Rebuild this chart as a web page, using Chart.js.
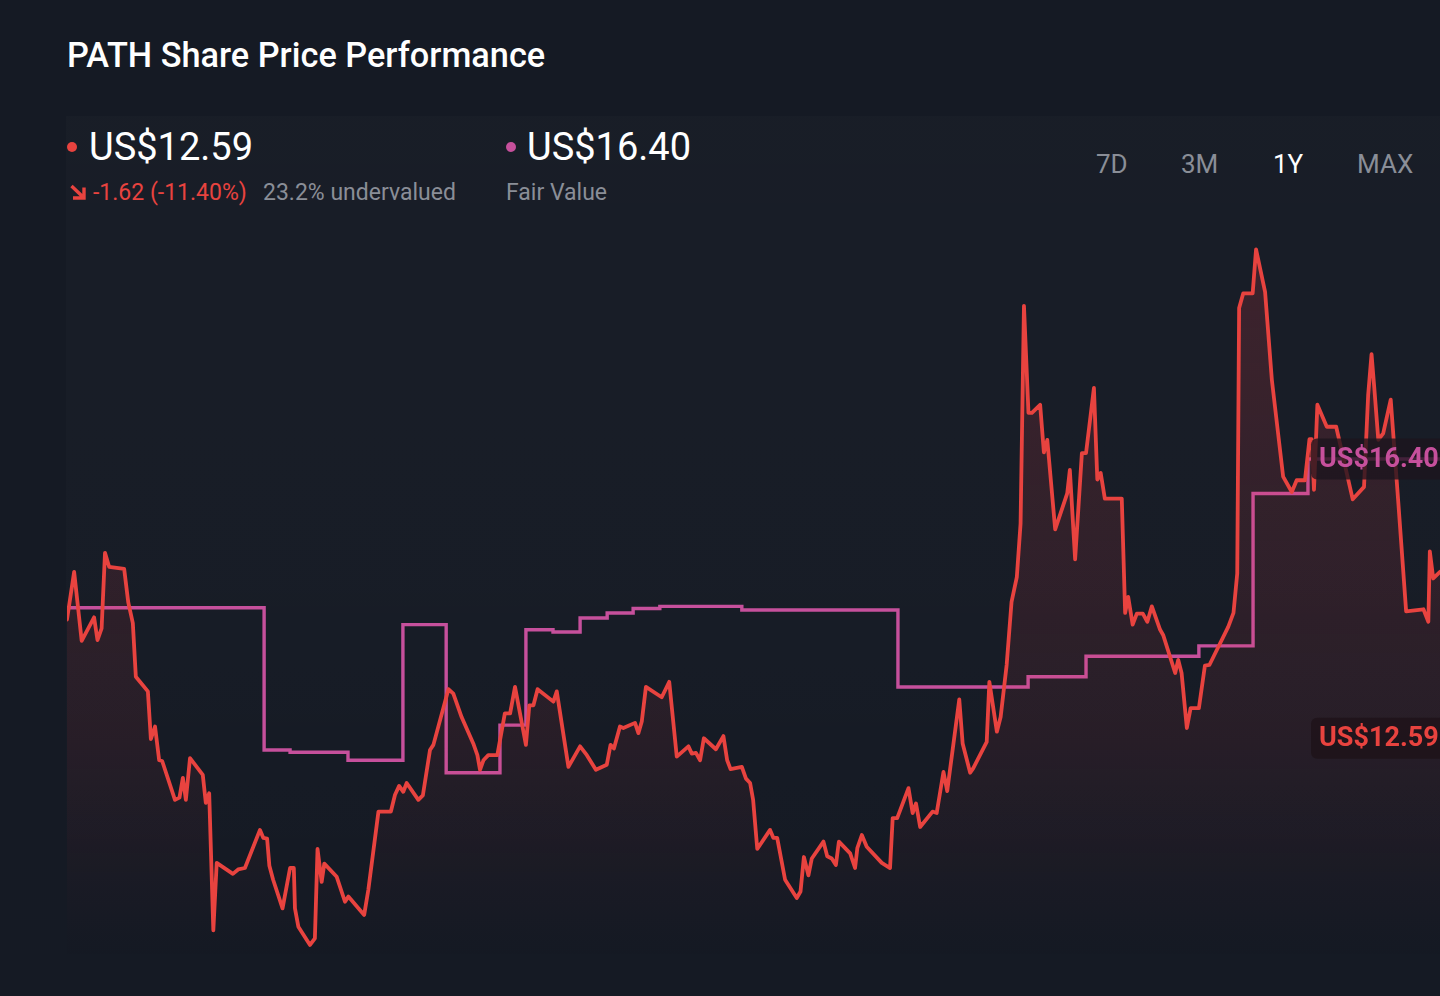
<!DOCTYPE html>
<html>
<head>
<meta charset="utf-8">
<script src="https://cdn.jsdelivr.net/npm/chart.js@4.4.1/dist/chart.umd.min.js"></script>
<style>
html,body{margin:0;padding:0;width:1440px;height:996px;overflow:hidden;background:#151a24;font-family:Roboto,"Noto Sans",sans-serif;}
.abs{position:absolute;white-space:nowrap;line-height:1;}
#panel{position:absolute;left:66px;top:116px;width:1374px;height:780px;background:linear-gradient(180deg,rgba(255,255,255,0.016) 0%,rgba(255,255,255,0.011) 60%,rgba(255,255,255,0) 100%);}
#title{left:67px;top:38px;font-size:34.3px;font-weight:500;color:#ffffff;}
.big{font-size:38px;color:#ffffff;font-weight:400;}
.dot{position:absolute;width:10px;height:10px;border-radius:50%;}
.sub{font-size:23px;}
.btn{font-size:26px;color:#8a8e97;top:151px;}
#chartWrap{position:absolute;left:67px;top:215px;width:1373px;height:745px;}
</style>
</head>
<body>
<div id="panel"></div>
<div id="title" class="abs">PATH Share Price Performance</div>

<div class="dot" style="left:67px;top:142px;background:#e8433f;"></div>
<div id="priceNow" class="abs big" style="left:89px;top:128px;"></div>
<svg style="position:absolute;left:69px;top:184px" width="18" height="16" viewBox="0 0 18 16"><path d="M2.5 2 L13.5 12.5 M15 3.5 L15 14 L4 14" stroke="#e8433f" stroke-width="3.4" fill="none" stroke-linecap="butt" stroke-linejoin="miter"/></svg>
<div id="chg" class="abs sub" style="left:93px;top:181px;color:#e8433f;"></div>
<div id="underv" class="abs sub" style="left:263px;top:181px;color:#8a8e97;"></div>

<div class="dot" style="left:506px;top:142px;background:#c6509c;"></div>
<div id="fairNow" class="abs big" style="left:527px;top:128px;"></div>
<div class="abs sub" style="left:506px;top:181px;color:#8a8e97;">Fair Value</div>

<div class="abs btn" style="left:1096px;">7D</div>
<div class="abs btn" style="left:1181px;">3M</div>
<div class="abs btn" style="left:1273px;color:#ffffff;">1Y</div>
<div class="abs btn" style="left:1357px;">MAX</div>

<div id="chartWrap"><canvas id="c" width="1373" height="745"></canvas></div>

<script>
// ---- data ----
const currentPrice = 12.59;
const fairValue = 16.40;
const priceChange = -1.62;
const priceChangePct = -11.40;
const undervaluedPct = 23.2;

// day offsets within the 1Y window (0..365) and share price in US$
const priceDays = [0,1.9,3.9,7.2,8.1,9.2,10.1,11.2,15.2,16.3,17.5,18.3,21.5,22.3,23.4,24.5,25.3,28.7,29.9,30.8,31.6,32.7,36.1,36.9,37.8,38.9,39.8,44.1,45.5,47.3,51.3,52.2,53.2,53.8,54.8,57.3,59.3,60.3,60.6,61.5,64.6,65.9,66.6,67.7,68.4,71.7,73.9,74.8,79.0,80.1,82.8,86.1,87.2,88.3,89.4,90.3,93.4,94.6,96.5,97.4,101.4,102.7,104.9,108.0,109.1,109.8,110.7,112.0,114.4,116.4,117.8,119.1,122.0,122.9,124.0,125.1,129.3,130.2,133.3,136.4,138.2,140.6,143.5,144.5,145.4,147.0,147.9,151.0,151.9,152.8,153.9,158.1,160.1,162.1,165.2,166.1,167.2,168.3,169.3,172.5,174.5,175.5,176.4,179.4,180.5,181.6,182.4,183.5,186.9,187.8,188.8,190.9,194.0,195.0,195.9,197.1,198.0,201.1,202.1,203.3,204.4,205.2,208.2,209.5,210.1,211.3,212.6,216.6,218.8,219.5,220.7,223.7,224.8,225.7,226.8,230.1,231.2,233.0,234.0,237.2,238.1,240.1,240.9,244.5,245.2,247.2,248.2,249.8,251.1,252.5,253.5,254.4,255.6,256.5,258.7,259.7,260.6,262.7,265.9,266.6,268.0,269.8,270.9,273.0,273.9,274.8,275.9,280.4,281.3,282.1,283.3,284.4,286.0,287.2,288.4,290.6,291.4,294.6,295.4,296.3,297.7,298.7,300.9,302.5,303.7,308.7,310.1,311.1,311.6,312.7,315.2,316.1,318.5,320.3,323.3,325.6,326.9,329.1,330.3,330.9,331.5,332.4,334.9,337.4,341.8,344.8,345.9,346.8,347.5,348.6,349.9,351.9,353.9,356.0,360.6,361.9,362.3,363.2,365.0];
const priceValues = [14.21,14.86,13.92,14.24,13.93,14.09,15.12,14.93,14.90,14.44,14.16,13.43,13.23,12.58,12.75,12.29,12.28,11.75,11.78,12.05,11.75,12.32,12.09,11.71,11.84,9.97,10.89,10.74,10.80,10.82,11.34,11.23,11.22,10.85,10.66,10.27,10.82,10.82,10.27,10.02,9.77,9.86,11.08,10.63,10.88,10.70,10.36,10.43,10.18,10.52,11.59,11.59,11.82,11.94,11.86,11.98,11.75,11.81,12.43,12.50,13.26,13.20,12.88,12.52,12.36,12.16,12.29,12.36,12.36,12.93,12.93,13.29,12.50,13.04,13.04,13.26,13.09,13.23,12.20,12.48,12.36,12.16,12.23,12.50,12.45,12.75,12.73,12.80,12.66,12.82,13.29,13.15,13.36,12.34,12.48,12.38,12.39,12.29,12.59,12.44,12.62,12.29,12.17,12.20,12.04,11.98,11.75,11.08,11.34,11.23,11.23,10.66,10.41,10.50,10.97,10.72,10.95,11.18,10.98,10.95,10.86,11.18,11.02,10.82,11.09,11.27,11.11,10.89,10.82,11.50,11.50,11.91,11.57,11.70,11.38,11.59,11.57,12.13,11.87,13.12,12.52,12.12,12.18,12.54,13.36,12.68,12.88,13.59,14.45,14.79,15.52,18.49,17.03,17.03,17.14,16.49,16.66,15.44,15.93,16.25,15.03,16.48,16.48,17.37,16.12,16.21,15.86,15.86,14.30,14.52,14.14,14.29,14.29,14.18,14.39,14.07,14.00,13.48,13.66,13.48,12.73,13.00,13.00,13.58,13.59,14.11,14.30,14.84,18.46,18.66,18.66,19.26,18.68,17.48,16.16,15.95,16.11,16.11,16.67,16.67,15.98,17.14,16.84,16.84,15.85,16.02,17.27,17.83,17.39,16.66,16.75,17.21,15.82,14.32,14.35,14.18,15.14,14.77,14.86];

// fair value estimate: day each estimate starts, and its value in US$
const fairDays = [0,52.4,59.3,74.7,89.3,100.8,115.1,122.0,129.2,136.4,143.6,150.5,157.6,179.4,220.9,255.5,270.9,300.9,315.3,329.9,365];
const fairValues = [14.37,12.43,12.40,12.29,14.14,12.12,12.77,14.07,14.04,14.23,14.30,14.36,14.39,14.34,13.29,13.43,13.71,13.85,15.93,16.40,16.40];

// ---- header texts ----
document.getElementById('priceNow').textContent = 'US$' + currentPrice.toFixed(2);
document.getElementById('fairNow').textContent = 'US$' + fairValue.toFixed(2);
document.getElementById('chg').textContent = priceChange.toFixed(2) + ' (' + priceChangePct.toFixed(2) + '%)';
document.getElementById('underv').textContent = undervaluedPct.toFixed(1) + '% undervalued';

const RED = '#e8433f';
const PINK = '#c6509c';

const pricePts = priceDays.map((d, i) => ({x: d, y: priceValues[i]}));
const fairPts = fairDays.map((d, i) => ({x: d, y: fairValues[i]}));

function redFill(context) {
  const chart = context.chart;
  const area = chart.chartArea;
  if (!area) return 'rgba(0,0,0,0)';
  const g = chart.ctx.createLinearGradient(0, area.top, 0, area.bottom);
  g.addColorStop(0, 'rgba(225,62,72,0.20)');
  g.addColorStop(0.35, 'rgba(225,62,72,0.14)');
  g.addColorStop(0.7, 'rgba(225,62,72,0.085)');
  g.addColorStop(0.9, 'rgba(225,62,72,0.025)');
  g.addColorStop(1, 'rgba(225,62,72,0)');
  return g;
}

const valueTags = {
  id: 'valueTags',
  afterDatasetsDraw(chart) {
    const ctx = chart.ctx;
    const y = chart.scales.y;
    const tags = [
      {v: fairValue, color: PINK, bg: 'rgba(28,20,30,0.78)'},
      {v: currentPrice, color: RED, bg: 'rgba(30,20,26,0.85)'}
    ];
    ctx.save();
    ctx.font = '700 27px Roboto, sans-serif';
    ctx.textBaseline = 'middle';
    tags.forEach(t => {
      const py = y.getPixelForValue(t.v);
      const left = 1244, h = 41, w = 160, r = 6;
      ctx.fillStyle = t.bg;
      ctx.beginPath();
      ctx.roundRect(left, py - h / 2, w, h, r);
      ctx.fill();
      ctx.fillStyle = t.color;
      ctx.textAlign = 'left';
      ctx.fillText('US$' + t.v.toFixed(2), left + 8, py + 1);
    });
    ctx.restore();
  }
};

new Chart(document.getElementById('c'), {
  type: 'line',
  data: {
    datasets: [
      {
        label: 'Share Price',
        data: pricePts,
        borderColor: RED,
        borderWidth: 3.8,
        pointRadius: 0,
        tension: 0,
        fill: 'start',
        backgroundColor: redFill,
        borderJoinStyle: 'round',
        borderCapStyle: 'round',
        order: 0
      },
      {
        label: 'Fair Value',
        data: fairPts,
        borderColor: PINK,
        borderWidth: 3.4,
        pointRadius: 0,
        stepped: 'before',
        fill: false,
        order: 1
      }
    ]
  },
  options: {
    responsive: false,
    animation: false,
    devicePixelRatio: 1,
    layout: {padding: 0},
    plugins: {legend: {display: false}, tooltip: {enabled: false}},
    scales: {
      x: {type: 'linear', min: 0, max: 365, display: false},
      y: {min: 9.565, max: 19.729, display: false}
    }
  },
  plugins: [valueTags]
});
</script>
</body>
</html>
